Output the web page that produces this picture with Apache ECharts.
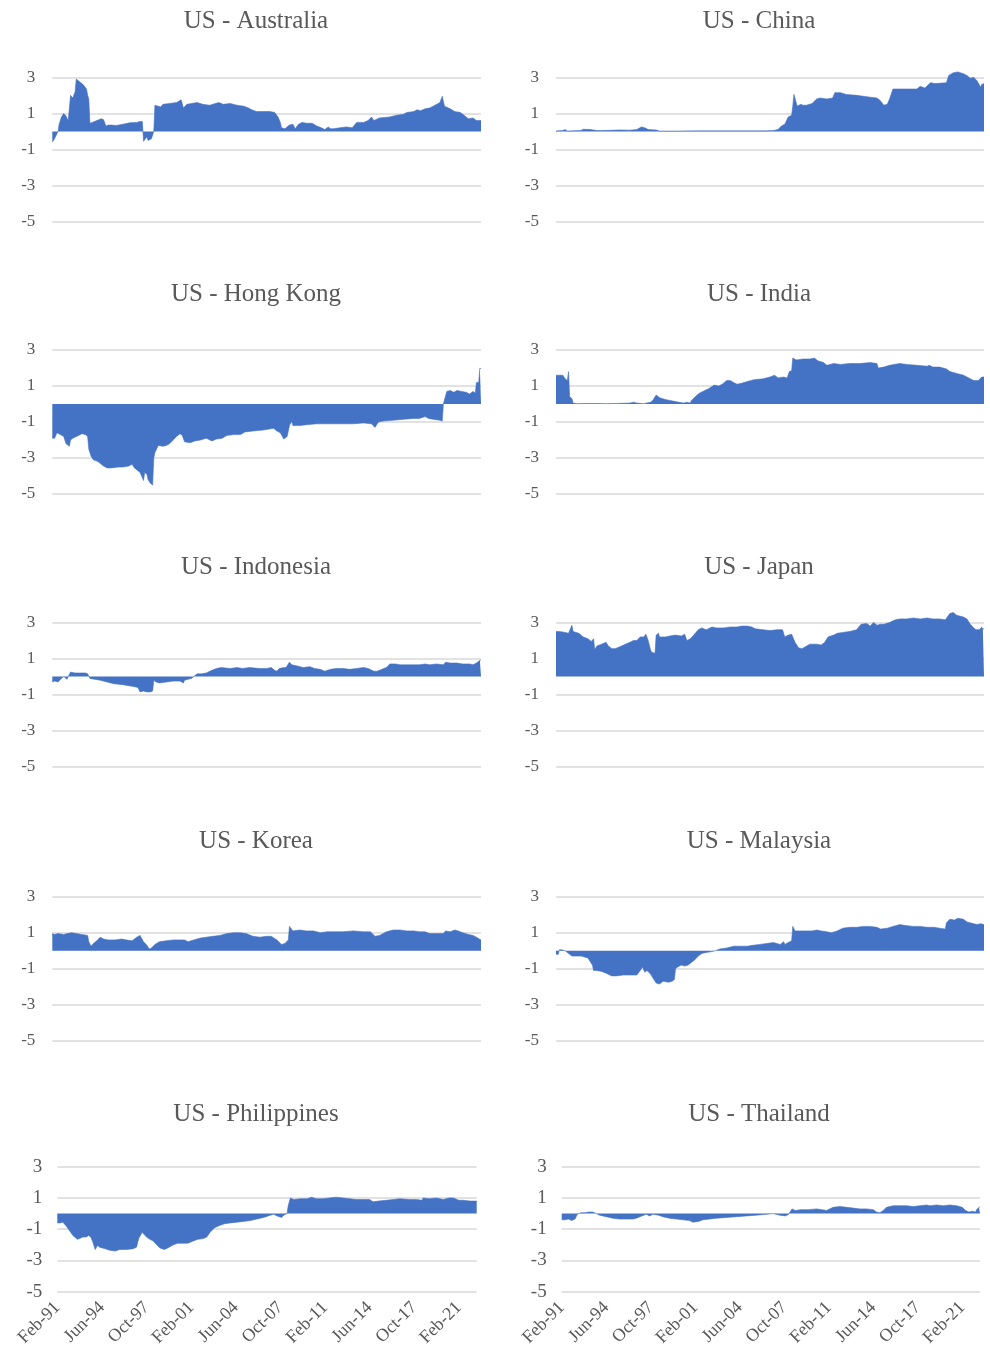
<!DOCTYPE html>
<html>
<head>
<meta charset="utf-8">
<script src="https://cdn.jsdelivr.net/npm/echarts@6/dist/echarts.min.js"></script>
<style>
html, body { margin: 0; background: #fff; }
#main { width: 990px; height: 1354px; }
</style>
</head>
<body>
<div id="main"></div>
<script>
// x = months since Feb-91, y = value
var tickLabels = ['Feb-91', 'Jun-94', 'Oct-97', 'Feb-01', 'Jun-04', 'Oct-07', 'Feb-11', 'Jun-14', 'Oct-17', 'Feb-21'];

var titles = ['US - Australia', 'US - China', 'US - Hong Kong', 'US - India', 'US - Indonesia',
              'US - Japan', 'US - Korea', 'US - Malaysia', 'US - Philippines', 'US - Thailand'];

var australia = [[0,-0.6],[2,-0.4],[5,0],[6,0.4],[8,0.8],[10,1.0],[12,0.85],[14,0.6],[15,0.55],[16,2.0],[17,1.9],[18,1.85],[20,2.2],[21,2.9],[24,2.75],[27,2.6],[30,2.35],[31,2.0],[32,1.8],[33,0.45],[35,0.5],[39,0.6],[43,0.7],[45,0.65],[47,0.3],[49,0.35],[52,0.35],[56,0.33],[62,0.4],[68,0.48],[74,0.5],[77,0.55],[79,0.55],[80,-0.55],[81,-0.5],[83,-0.3],[84,-0.5],[87,-0.4],[88,-0.3],[89,0],[90,1.45],[93,1.4],[95,1.35],[97,1.5],[103,1.55],[109,1.6],[113,1.75],[115,1.3],[118,1.5],[122,1.55],[127,1.6],[132,1.5],[138,1.45],[146,1.6],[150,1.5],[156,1.55],[162,1.45],[168,1.4],[172,1.3],[175,1.2],[179,1.1],[185,1.1],[191,1.1],[195,1.05],[198,0.8],[200,0.5],[201,0.2],[204,0.15],[208,0.35],[211,0.4],[213,0.15],[216,0.4],[219,0.5],[223,0.45],[228,0.45],[232,0.3],[236,0.2],[239,0.1],[242,0.25],[244,0.15],[247,0.15],[252,0.2],[258,0.25],[263,0.2],[267,0.5],[273,0.5],[277,0.6],[280,0.8],[282,0.6],[287,0.75],[296,0.8],[302,0.9],[308,0.95],[311,1.05],[317,1.1],[320,1.2],[323,1.15],[327,1.25],[331,1.3],[334,1.4],[340,1.6],[342,1.95],[344,1.4],[349,1.25],[353,1.1],[358,1.05],[362,0.85],[365,0.7],[369,0.75],[372,0.6],[376,0.6]];

var china = [[0,0.02],[2,0.03],[6,0.05],[8,0.1],[10,0.02],[22,0.05],[24,0.12],[30,0.1],[36,0.05],[39,0.05],[47,0.06],[56,0.08],[65,0.07],[71,0.1],[75,0.25],[78,0.2],[81,0.1],[88,0.08],[91,0.02],[106,0.02],[127,0.03],[156,0.03],[185,0.03],[191,0.05],[195,0.1],[198,0.3],[201,0.4],[202,0.5],[204,0.8],[207,0.9],[208,1.4],[209,2.05],[211,1.6],[212,1.4],[213,1.35],[215,1.5],[217,1.45],[220,1.45],[225,1.55],[229,1.8],[232,1.85],[238,1.8],[243,1.85],[245,2.15],[250,2.15],[255,2.05],[264,2.0],[270,1.95],[276,1.9],[282,1.85],[285,1.7],[288,1.45],[291,1.5],[293,1.8],[296,2.35],[302,2.35],[311,2.35],[317,2.35],[320,2.5],[324,2.4],[329,2.7],[333,2.65],[343,2.7],[345,3.1],[349,3.25],[353,3.3],[358,3.2],[361,3.1],[364,2.95],[367,3.0],[370,2.8],[373,2.45],[374,2.6],[376,2.65]];

var hongKong = [[0,-1.9],[2,-1.9],[4,-1.6],[7,-1.7],[10,-1.8],[12,-2.2],[15,-2.35],[16,-2.0],[18,-1.9],[23,-1.75],[26,-1.65],[29,-1.7],[31,-1.8],[32,-2.5],[34,-2.9],[36,-3.1],[40,-3.2],[45,-3.45],[48,-3.55],[52,-3.55],[58,-3.5],[62,-3.5],[67,-3.45],[70,-3.35],[72,-3.55],[77,-3.8],[80,-4.25],[81,-3.8],[83,-3.9],[84,-4.2],[86,-4.4],[88,-4.5],[89,-3.0],[90,-2.7],[91,-2.6],[93,-2.3],[97,-2.35],[100,-2.3],[103,-2.2],[106,-2.0],[109,-1.8],[112,-1.65],[114,-1.75],[116,-2.1],[121,-2.15],[125,-2.05],[130,-2.0],[135,-1.9],[140,-2.05],[144,-1.95],[149,-1.9],[153,-1.75],[159,-1.7],[165,-1.7],[169,-1.55],[176,-1.5],[185,-1.45],[194,-1.35],[197,-1.5],[200,-1.6],[203,-1.95],[206,-1.8],[208,-1.2],[210,-0.95],[211,-1.2],[217,-1.2],[223,-1.15],[232,-1.1],[241,-1.1],[249,-1.1],[258,-1.1],[264,-1.1],[273,-1.05],[280,-1.1],[283,-1.3],[286,-1.0],[290,-0.95],[299,-0.9],[308,-0.85],[317,-0.8],[322,-0.8],[327,-0.7],[330,-0.8],[334,-0.85],[340,-0.9],[342,-0.95],[343,0],[346,0.7],[349,0.75],[352,0.65],[355,0.75],[359,0.7],[363,0.65],[366,0.55],[369,0.7],[371,0.6],[372,1.2],[374,1.2],[375,2.0],[376,1.95]];

var india = [[0,1.6],[3,1.6],[6,1.6],[8,1.4],[10,1.3],[11,1.8],[12,0.4],[14,0.3],[15,0.05],[18,0.02],[27,0.03],[36,0.03],[44,0.02],[53,0.03],[65,0.05],[68,0.1],[71,0.05],[77,0.02],[83,0.1],[85,0.2],[88,0.5],[91,0.35],[96,0.25],[100,0.2],[106,0.12],[112,0.05],[115,0.1],[118,0.05],[119,0.2],[124,0.5],[126,0.6],[129,0.7],[134,0.85],[139,1.05],[143,1.0],[146,1.1],[150,1.3],[153,1.3],[156,1.2],[159,1.1],[163,1.15],[168,1.25],[174,1.35],[182,1.4],[188,1.5],[192,1.6],[195,1.45],[200,1.5],[203,1.45],[205,1.8],[207,1.85],[208,2.55],[211,2.45],[217,2.5],[223,2.5],[227,2.55],[230,2.4],[235,2.3],[238,2.15],[244,2.25],[250,2.2],[258,2.25],[267,2.25],[276,2.3],[282,2.25],[283,2.0],[288,2.05],[293,2.15],[302,2.25],[308,2.2],[317,2.15],[326,2.1],[328,2.15],[331,2.05],[337,2.05],[343,1.95],[346,1.8],[352,1.7],[358,1.6],[361,1.5],[364,1.4],[367,1.3],[371,1.3],[372,1.35],[374,1.5],[376,1.5]];

var indonesia = [[0,-0.3],[2,-0.25],[5,-0.3],[8,-0.1],[10,0],[11,-0.1],[13,-0.15],[14,0],[15,0.05],[16,0.25],[20,0.2],[24,0.2],[29,0.2],[31,0.15],[33,-0.1],[37,-0.15],[42,-0.2],[48,-0.3],[54,-0.4],[62,-0.45],[71,-0.55],[75,-0.6],[77,-0.85],[80,-0.8],[83,-0.85],[86,-0.85],[88,-0.8],[89,-0.2],[91,-0.3],[94,-0.35],[100,-0.3],[106,-0.25],[112,-0.25],[115,-0.35],[116,-0.2],[119,-0.15],[122,-0.1],[125,0.05],[127,0.15],[131,0.15],[135,0.2],[140,0.35],[144,0.45],[148,0.5],[156,0.45],[162,0.5],[167,0.45],[173,0.5],[182,0.45],[188,0.45],[192,0.5],[195,0.35],[197,0.3],[199,0.45],[200,0.35],[203,0.5],[205,0.5],[208,0.8],[210,0.65],[214,0.6],[220,0.5],[226,0.55],[230,0.45],[235,0.4],[239,0.3],[244,0.4],[249,0.45],[255,0.45],[261,0.4],[267,0.45],[273,0.5],[277,0.45],[282,0.3],[285,0.3],[289,0.4],[293,0.5],[296,0.7],[301,0.7],[305,0.65],[311,0.65],[317,0.65],[322,0.65],[327,0.7],[331,0.65],[337,0.7],[343,0.65],[345,0.8],[349,0.75],[355,0.75],[360,0.7],[366,0.7],[369,0.65],[372,0.75],[373,0.7],[375,0.9],[376,0.9]];

var japan = [[0,2.5],[3,2.5],[8,2.45],[11,2.4],[12,2.5],[14,2.85],[15,2.5],[20,2.4],[24,2.2],[28,2.1],[31,1.95],[33,2.1],[34,1.5],[36,1.7],[40,1.8],[44,1.9],[46,1.7],[49,1.55],[52,1.55],[56,1.65],[61,1.8],[65,1.9],[68,2.0],[71,2.0],[74,2.2],[77,2.2],[79,2.35],[81,2.0],[83,1.5],[84,1.35],[87,1.3],[88,2.3],[90,2.4],[91,2.2],[96,2.2],[100,2.25],[105,2.3],[110,2.25],[113,2.35],[115,2.0],[118,2.1],[121,2.3],[125,2.6],[128,2.7],[129,2.8],[132,2.6],[137,2.75],[141,2.7],[147,2.7],[153,2.75],[159,2.75],[163,2.8],[168,2.8],[172,2.75],[175,2.65],[182,2.6],[188,2.55],[194,2.6],[199,2.6],[201,2.2],[204,2.3],[207,2.35],[208,2.2],[210,1.9],[213,1.6],[216,1.55],[219,1.65],[223,1.8],[229,1.8],[233,1.75],[236,1.9],[239,2.2],[244,2.3],[247,2.4],[252,2.45],[258,2.5],[264,2.6],[268,2.9],[273,2.95],[276,2.8],[279,3.0],[282,2.85],[285,2.9],[288,2.9],[293,3.0],[298,3.15],[302,3.2],[308,3.2],[314,3.25],[320,3.2],[326,3.25],[331,3.2],[337,3.2],[342,3.15],[343,3.25],[346,3.5],[349,3.55],[352,3.4],[358,3.3],[361,3.2],[364,2.9],[367,2.7],[369,2.6],[372,2.6],[374,2.75],[375,2.6],[376,2.7]];

var korea = [[0,0.95],[2,0.9],[5,0.95],[10,0.9],[13,0.95],[17,1.0],[21,0.95],[26,0.9],[31,0.85],[32,0.5],[34,0.25],[36,0.4],[39,0.55],[42,0.75],[45,0.65],[49,0.6],[55,0.6],[61,0.65],[65,0.6],[70,0.55],[74,0.75],[77,0.85],[80,0.5],[83,0.3],[85,0.1],[87,0.15],[90,0.35],[94,0.5],[100,0.55],[106,0.6],[112,0.6],[116,0.6],[119,0.5],[124,0.6],[130,0.7],[135,0.75],[141,0.8],[147,0.85],[153,0.95],[159,1.0],[165,1.0],[170,0.95],[176,0.8],[182,0.75],[188,0.8],[192,0.8],[197,0.6],[201,0.35],[204,0.4],[207,0.6],[208,1.35],[211,1.1],[217,1.15],[223,1.1],[229,1.1],[235,1.0],[241,1.05],[247,1.05],[255,1.05],[264,1.1],[273,1.05],[279,1.05],[283,0.8],[287,0.85],[293,1.05],[299,1.15],[305,1.15],[311,1.1],[317,1.1],[322,1.05],[327,1.05],[331,0.95],[337,0.95],[343,0.95],[345,1.1],[349,1.05],[353,1.15],[356,1.1],[360,1.0],[365,0.9],[369,0.85],[372,0.75],[376,0.6]];

var malaysia = [[0,-0.2],[2,-0.2],[3,0.05],[5,0.05],[8,0],[11,-0.15],[14,-0.3],[18,-0.3],[22,-0.3],[25,-0.35],[28,-0.4],[30,-0.6],[32,-0.8],[33,-1.1],[36,-1.1],[40,-1.15],[44,-1.25],[49,-1.4],[53,-1.4],[59,-1.35],[65,-1.35],[71,-1.35],[74,-1.1],[76,-0.9],[78,-1.2],[80,-1.1],[83,-1.3],[86,-1.6],[88,-1.8],[91,-1.85],[94,-1.7],[99,-1.75],[102,-1.7],[104,-1.6],[105,-1.0],[107,-0.9],[110,-0.8],[113,-0.85],[116,-0.8],[119,-0.65],[122,-0.5],[125,-0.3],[128,-0.15],[132,-0.1],[137,-0.05],[140,0],[144,0.1],[150,0.15],[156,0.25],[162,0.25],[168,0.25],[173,0.3],[179,0.35],[185,0.4],[191,0.45],[194,0.4],[197,0.35],[200,0.5],[201,0.35],[204,0.45],[207,0.55],[208,1.35],[210,1.1],[214,1.1],[220,1.1],[225,1.1],[229,1.15],[233,1.1],[238,1.05],[242,1.0],[247,1.1],[252,1.25],[258,1.3],[264,1.3],[270,1.35],[276,1.35],[282,1.3],[285,1.2],[291,1.25],[296,1.35],[302,1.45],[307,1.4],[314,1.35],[320,1.35],[326,1.3],[332,1.3],[337,1.25],[342,1.2],[343,1.55],[346,1.75],[350,1.7],[353,1.8],[358,1.75],[361,1.6],[367,1.5],[370,1.45],[373,1.5],[376,1.45]];

var philippines = [[0,-0.6],[2,-0.6],[5,-0.55],[8,-0.8],[11,-1.1],[14,-1.4],[18,-1.65],[20,-1.6],[23,-1.5],[26,-1.5],[28,-1.4],[30,-1.5],[32,-1.85],[34,-2.3],[36,-2.05],[38,-2.15],[43,-2.25],[47,-2.35],[52,-2.4],[56,-2.3],[62,-2.3],[68,-2.25],[71,-2.15],[73,-1.6],[76,-1.2],[80,-1.5],[83,-1.65],[86,-1.75],[89,-2.0],[92,-2.2],[96,-2.3],[99,-2.2],[104,-2.0],[108,-1.9],[113,-1.9],[117,-1.9],[122,-1.75],[126,-1.65],[131,-1.6],[134,-1.5],[137,-1.2],[141,-0.9],[146,-0.75],[150,-0.65],[155,-0.6],[161,-0.55],[167,-0.5],[173,-0.45],[179,-0.35],[185,-0.25],[191,-0.1],[194,-0.05],[197,-0.15],[201,-0.25],[203,-0.1],[206,0],[207,0.5],[209,1.0],[212,0.9],[218,0.95],[224,0.95],[228,1.05],[232,0.95],[238,0.95],[244,1.0],[250,1.05],[256,1.0],[262,0.95],[268,0.9],[274,0.9],[280,0.9],[283,0.75],[288,0.8],[295,0.85],[301,0.9],[307,0.95],[316,0.9],[322,0.9],[327,0.85],[328,1.0],[334,0.95],[340,1.0],[346,0.9],[351,1.0],[355,1.0],[360,0.85],[364,0.85],[370,0.8],[376,0.8]];

var thailand = [[0,-0.4],[3,-0.4],[6,-0.35],[9,-0.45],[12,-0.35],[14,-0.05],[17,0.05],[21,0.05],[24,0.1],[28,0.1],[31,0],[34,-0.1],[40,-0.2],[46,-0.3],[52,-0.35],[58,-0.35],[64,-0.35],[67,-0.3],[72,-0.15],[76,-0.05],[79,-0.15],[82,-0.05],[87,-0.1],[91,-0.2],[97,-0.3],[103,-0.35],[109,-0.4],[115,-0.45],[118,-0.55],[123,-0.5],[127,-0.4],[133,-0.35],[139,-0.3],[148,-0.25],[157,-0.2],[166,-0.15],[175,-0.1],[184,-0.05],[190,0],[196,-0.1],[201,-0.15],[204,-0.05],[207,0.3],[210,0.2],[215,0.25],[222,0.25],[229,0.3],[234,0.25],[238,0.2],[244,0.4],[250,0.45],[256,0.4],[262,0.35],[268,0.3],[274,0.3],[280,0.25],[283,0.1],[286,0.05],[289,0.2],[292,0.4],[298,0.5],[304,0.5],[310,0.5],[316,0.45],[322,0.5],[328,0.55],[331,0.5],[337,0.55],[343,0.5],[349,0.55],[355,0.5],[360,0.4],[363,0.2],[366,0.1],[369,0.15],[372,0.1],[373,0.25],[375,0.4],[376,0.45]];

var seriesData = [australia, china, hongKong, india, indonesia, japan, korea, malaysia, philippines, thailand];

var dom = document.getElementById('main');
var myChart = echarts.init(dom, null, {renderer: 'canvas'});

var font = 'Liberation Serif';
var textColor = '#595959';
var blue = '#4472C4';

// panel geometry (px)
var rowTop = [77.3, 350, 622.5, 896.7, 1166.7];
var rowHeight = [144.3, 144, 144.2, 144, 125];
var colLeft = [52.3, 556];
var colWidth = [428.7, 428];
var lastLeft = [57.3, 561.7];
var lastWidth = [419.4, 418.3];
var titleX = [251, 754];

var grids = [], xAxes = [], yAxes = [], series = [], titleList = [];

seriesData.forEach(function (data, i) {
    var row = Math.floor(i / 2), col = i % 2, last = row === 4;
    grids.push({
        left: last ? lastLeft[col] : colLeft[col],
        top: rowTop[row],
        width: last ? lastWidth[col] : colWidth[col],
        height: rowHeight[row]
    });
    titleList.push({
        text: titles[i],
        left: titleX[col],
        top: rowTop[row] - (last ? 70 : 73),
        textAlign: 'center',
        textStyle: {fontFamily: font, fontSize: 25, fontWeight: 'normal', color: textColor}
    });
    xAxes.push({
        type: 'value',
        gridIndex: i,
        min: 0,
        max: 376,
        interval: 40,
        axisLine: {show: false},
        axisTick: {show: false},
        splitLine: {show: false},
        axisLabel: {
            show: last,
            rotate: 45,
            margin: 13,
            fontFamily: font,
            fontSize: 18,
            color: textColor,
            showMaxLabel: false,
            formatter: function (v) {
                return v % 40 === 0 ? (tickLabels[v / 40] || '') : '';
            }
        }
    });
    yAxes.push({
        type: 'value',
        gridIndex: i,
        min: -5,
        max: 3,
        interval: 2,
        axisLine: {show: false},
        axisTick: {show: false},
        splitLine: {lineStyle: {color: '#d9d9d9', width: 1.5}},
        axisLabel: {
            margin: last ? 15 : 17,
            fontFamily: font,
            fontSize: last ? 19 : 17,
            color: textColor
        }
    });
    series.push({
        type: 'line',
        xAxisIndex: i,
        yAxisIndex: i,
        data: data,
        symbol: 'none',
        clip: false,
        lineStyle: {width: 0.6, color: blue},
        areaStyle: {color: blue, opacity: 1},
        silent: true
    });
});

option = {
    backgroundColor: '#fff',
    animation: false,
    title: titleList,
    grid: grids,
    xAxis: xAxes,
    yAxis: yAxes,
    series: series
};

if (option && typeof option === 'object') {
    myChart.setOption(option);
}
</script>
</body>
</html>
